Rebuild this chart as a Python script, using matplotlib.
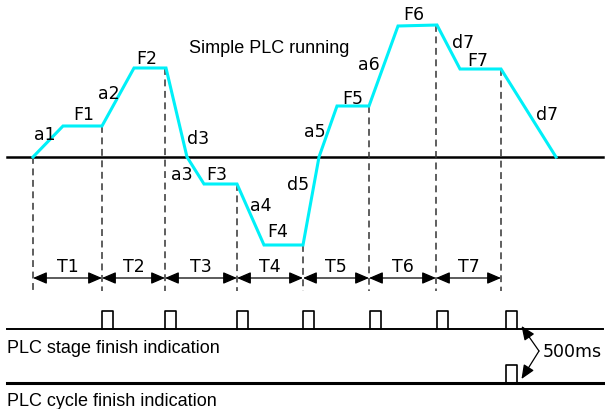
import matplotlib.pyplot as plt

# Frequency profile of the simple PLC run (x = time, y = frequency, screen units)
profile_x = [33, 63, 102, 134, 166, 187, 204, 237, 264, 303, 319, 337, 369, 398, 437, 460, 501, 556]
profile_y = [158, 127, 127, 69, 69, 158, 185, 185, 246, 246, 158, 107, 107, 27, 26, 70, 70, 158]

# Stage boundaries and the level each boundary line starts from
stage_x = [33, 102, 165, 237, 303, 369, 436, 501]
stage_top = [158, 127, 69, 185, 246, 107, 26, 70]
stage_names = ["T1", "T2", "T3", "T4", "T5", "T6", "T7"]

# Stage-finish pulses and the cycle-finish pulse
pulse_x = [102, 165, 237, 303, 370, 437, 506]
cycle_pulse_x = 506

# Segment labels: (text, x centre, baseline y)
seg_labels = [
    ("a1", 44.5, 140), ("F1", 83.5, 120), ("a2", 108.5, 99), ("F2", 147, 64),
    ("d3", 198.5, 144), ("a3", 182, 180), ("F3", 216.5, 180), ("a4", 261, 211.5),
    ("F4", 278, 237.5), ("d5", 298, 190.5), ("a5", 315, 137.5), ("F5", 353, 103.5),
    ("a6", 369, 70), ("F6", 414, 20), ("d7", 463, 47.5), ("F7", 478, 66),
    ("d7", 547, 119.5),
]

BASE_Y = 158
ARROW_Y = 279
DASH_BOTTOM = 292
STAGE_Y = 329.5
CYCLE_Y = 384
PULSE_W = 10.5
PULSE_H = 18

fig = plt.figure(figsize=(6.05, 4.10), dpi=100)
ax = fig.add_axes([0, 0, 1, 1])
ax.set_xlim(0, 605)
ax.set_ylim(410, 0)
ax.axis("off")

label_font = "DejaVu Sans"
text_font = "Liberation Sans"

# zero-frequency axis
ax.plot([7, 603], [BASE_Y, BASE_Y], color="black", lw=1.8)

# stage boundaries
for x, top in zip(stage_x, stage_top):
    ax.plot([x, x], [top, DASH_BOTTOM], color="#333333", lw=1.1, ls=(0, (4.5, 3)))

# frequency profile
ax.plot(profile_x, profile_y, color="#00f0f8", lw=2.2, solid_joinstyle="miter")

for text, x, y in seg_labels:
    ax.text(x, y, text, fontsize=12.5, family=label_font, ha="center", va="baseline")

ax.text(269.5, 52.7, "Simple PLC running", fontsize=13, family=text_font,
        ha="center", va="baseline")

# stage duration arrows
for i, name in enumerate(stage_names):
    x0, x1 = stage_x[i], stage_x[i + 1]
    ax.annotate("", xy=(x0, ARROW_Y), xytext=(x1, ARROW_Y),
                arrowprops=dict(arrowstyle="<|-|>,head_length=0.7,head_width=0.3",
                                color="black", lw=0.9,
                                shrinkA=0, shrinkB=0, mutation_scale=12))
    ax.text((x0 + x1) / 2, 271.7, name, fontsize=12.5, family=label_font,
            ha="center", va="baseline")

# stage finish signal
ax.plot([7, 603], [STAGE_Y, STAGE_Y], color="black", lw=1.4)
for x in pulse_x:
    ax.plot([x, x, x + PULSE_W, x + PULSE_W], [STAGE_Y, STAGE_Y - PULSE_H, STAGE_Y - PULSE_H, STAGE_Y],
            color="black", lw=1.2)
ax.text(7, 352.7, "PLC stage finish indication", fontsize=13, family=text_font,
        ha="left", va="baseline")

# cycle finish signal
ax.plot([7, 603], [CYCLE_Y, CYCLE_Y], color="black", lw=2.2)
ax.plot([cycle_pulse_x, cycle_pulse_x, cycle_pulse_x + PULSE_W, cycle_pulse_x + PULSE_W],
        [CYCLE_Y, CYCLE_Y - PULSE_H, CYCLE_Y - PULSE_H, CYCLE_Y], color="black", lw=1.2)
ax.text(7, 406, "PLC cycle finish indication", fontsize=13, family=text_font,
        ha="left", va="baseline")

# 500 ms delay between the last stage pulse and the cycle pulse
for tip_y in (327, 380):
    ax.annotate("", xy=(521.5, tip_y), xytext=(539, 352),
                arrowprops=dict(arrowstyle="-|>,head_length=0.7,head_width=0.3",
                                color="black", lw=0.9,
                                shrinkA=0, shrinkB=0, mutation_scale=12))
ax.text(542.5, 357.3, "500ms", fontsize=12.5, family=label_font, ha="left", va="baseline")

fig.savefig("out.png", dpi=100)
